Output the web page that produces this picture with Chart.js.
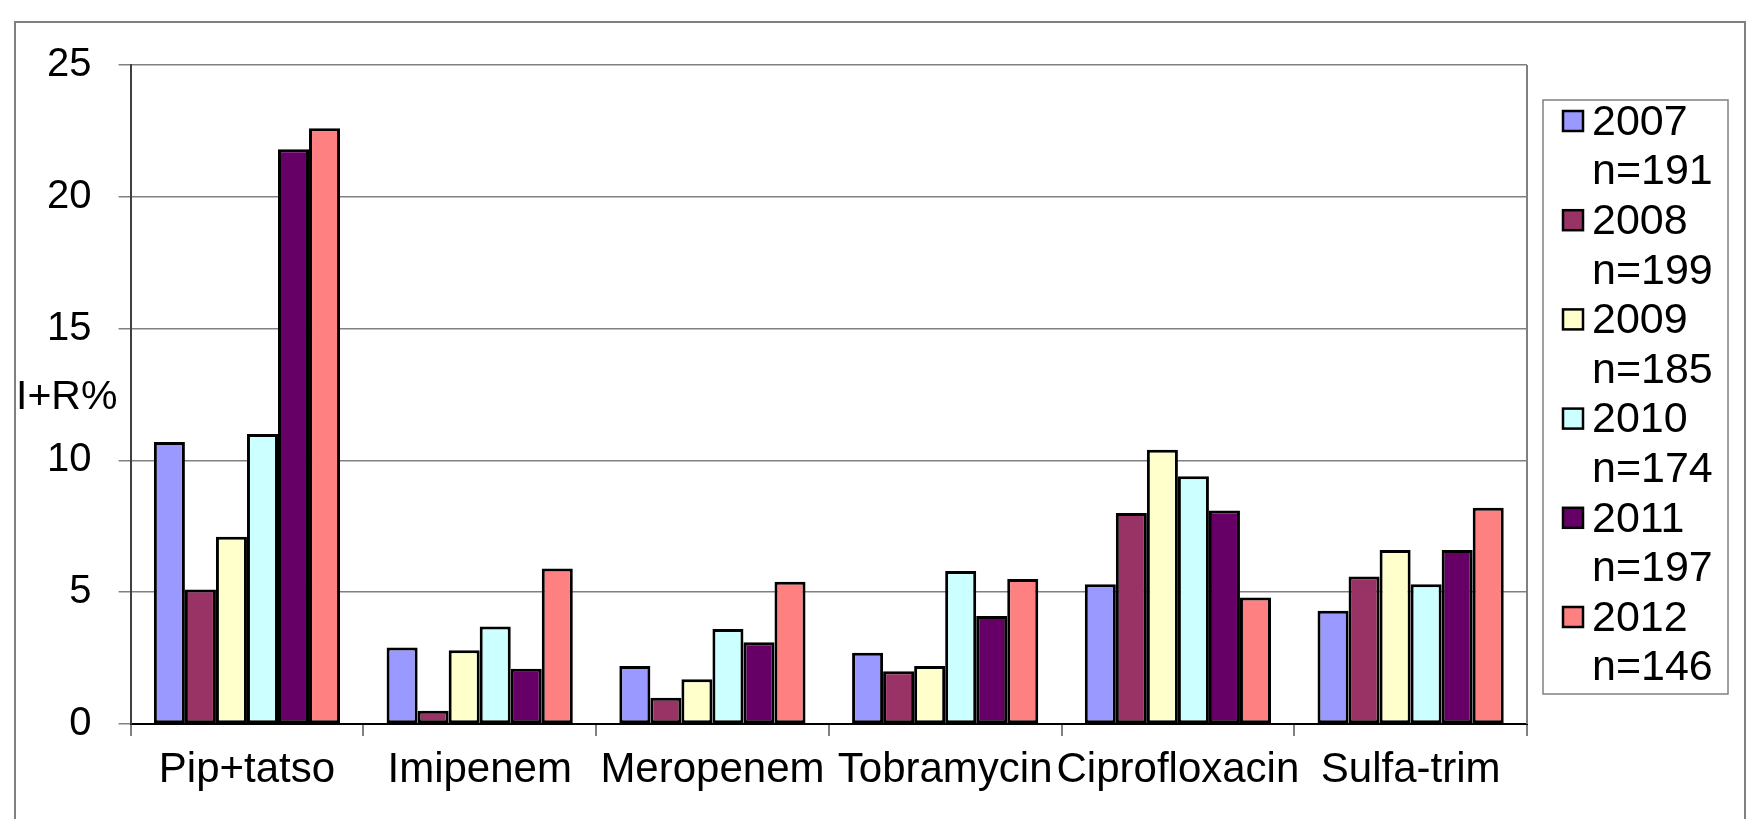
<!DOCTYPE html>
<html>
<head>
<meta charset="utf-8">
<script src="https://cdn.jsdelivr.net/npm/chart.js@4/dist/chart.umd.min.js"></script>
<style>
    html, body { margin: 0; padding: 0; background: #ffffff; }
    #wrap { width: 1750px; height: 819px; position: relative; }
</style>
</head>
<body>
<div id="wrap"><canvas id="irChart"></canvas></div>
<script>
// ================= DATA =================

const categories = ["Pip+tatso", "Imipenem", "Meropenem", "Tobramycin", "Ciprofloxacin", "Sulfa-trim"];
const years = ["2007", "2008", "2009", "2010", "2011", "2012"];
const sampleSizes = ["n=191", "n=199", "n=185", "n=174", "n=197", "n=146"];

const values2007 = [10.7, 2.9, 2.2, 2.7, 5.3, 4.3];
const values2008 = [5.1, 0.5, 1.0, 2.0, 8.0, 5.6];
const values2009 = [7.1, 2.8, 1.7, 2.2, 10.4, 6.6];
const values2010 = [11.0, 3.7, 3.6, 5.8, 9.4, 5.3];
const values2011 = [21.8, 2.1, 3.1, 4.1, 8.1, 6.6];
const values2012 = [22.6, 5.9, 5.4, 5.5, 4.8, 8.2];

const yTicks = [0, 5, 10, 15, 20, 25];
const axisTitle = "I+R%";

const seriesValues = [values2007, values2008, values2009, values2010, values2011, values2012];
const seriesColors = ["#9999ff", "#993366", "#ffffcc", "#ccffff", "#660066", "#ff8080"];

const FONT = "'Liberation Sans', Arial, sans-serif";

// ================= DECORATION PLUGIN =================

const frameAndLegend = {
    id: "frameAndLegend",

    beforeDraw(chart) {
        const { ctx } = chart;
        ctx.save();
        ctx.fillStyle = "#ffffff";
        ctx.fillRect(0, 0, chart.width, chart.height);

        // outer frame
        ctx.strokeStyle = "#808080";
        ctx.lineWidth = 2;
        ctx.strokeRect(15, 22, 1730, 830);
        ctx.restore();
    },

    afterDraw(chart) {
        const { ctx, chartArea } = chart;
        ctx.save();

        // right edge of the plot area
        ctx.strokeStyle = "#808080";
        ctx.lineWidth = 2;
        ctx.beginPath();
        ctx.moveTo(chartArea.right, chartArea.top);
        ctx.lineTo(chartArea.right, chartArea.bottom);
        ctx.stroke();

        // horizontal axis title
        ctx.fillStyle = "#000000";
        ctx.font = "41px " + FONT;
        ctx.textAlign = "left";
        ctx.textBaseline = "middle";
        ctx.fillText(axisTitle, 16, 398);

        // legend box
        ctx.strokeStyle = "#808080";
        ctx.lineWidth = 1.5;
        ctx.strokeRect(1543, 100, 185, 594);

        ctx.font = "43px " + FONT;
        const pitch = 49.6;
        chart.data.datasets.forEach((ds, i) => {
            const y1 = 121 + pitch * 2 * i;
            const y2 = y1 + pitch;

            ctx.fillStyle = ds.backgroundColor;
            ctx.fillRect(1563, y1 - 10, 20, 20);
            ctx.strokeStyle = "#000000";
            ctx.lineWidth = 2.5;
            ctx.strokeRect(1563, y1 - 10, 20, 20);

            ctx.fillStyle = "#000000";
            ctx.fillText(years[i], 1592, y1 + 2);
            ctx.fillText(sampleSizes[i], 1592, y2 + 2);
        });

        ctx.restore();
    }
};

// ================= CHART =================

new Chart(
    document.getElementById("irChart"),
    {
        type: "bar",

        data: {
            labels: categories,

            datasets: years.map((year, i) => ({
                label: year + " " + sampleSizes[i],
                data: seriesValues[i],
                backgroundColor: seriesColors[i],
                borderColor: "#000000",
                borderWidth: 3,
                borderSkipped: false,
                categoryPercentage: 0.8,
                barPercentage: 1.0
            }))
        },

        options: {
            responsive: true,
            maintainAspectRatio: false,
            animation: false,

            layout: {
                padding: { left: 0, right: 223, top: 65, bottom: 0 }
            },

            plugins: {
                legend: { display: false },
                title: { display: false },
                tooltip: { enabled: false }
            },

            scales: {
                x: {
                    offset: true,
                    grid: {
                        offset: true,
                        drawOnChartArea: false,
                        drawTicks: true,
                        tickLength: 12,
                        color: "#808080",
                        lineWidth: 2
                    },
                    border: { color: "#000000", width: 2 },
                    ticks: {
                        color: "#000000",
                        font: { family: FONT, size: 42 },
                        padding: 9,
                        maxRotation: 0,
                        autoSkip: false
                    },
                    afterFit(scale) {
                        scale.height = 95;
                    }
                },

                y: {
                    min: 0,
                    max: 25,
                    afterBuildTicks(scale) {
                        scale.ticks = yTicks.map(v => ({ value: v }));
                    },
                    grid: {
                        color: "#808080",
                        lineWidth: 1.5,
                        tickLength: 12
                    },
                    border: { color: "#404040", width: 2 },
                    ticks: {
                        color: "#000000",
                        font: { family: FONT, size: 40 },
                        padding: 27
                    },
                    afterFit(scale) {
                        scale.width = 130.6;
                    }
                }
            }
        },

        plugins: [frameAndLegend]
    }
);
</script>
</body>
</html>
